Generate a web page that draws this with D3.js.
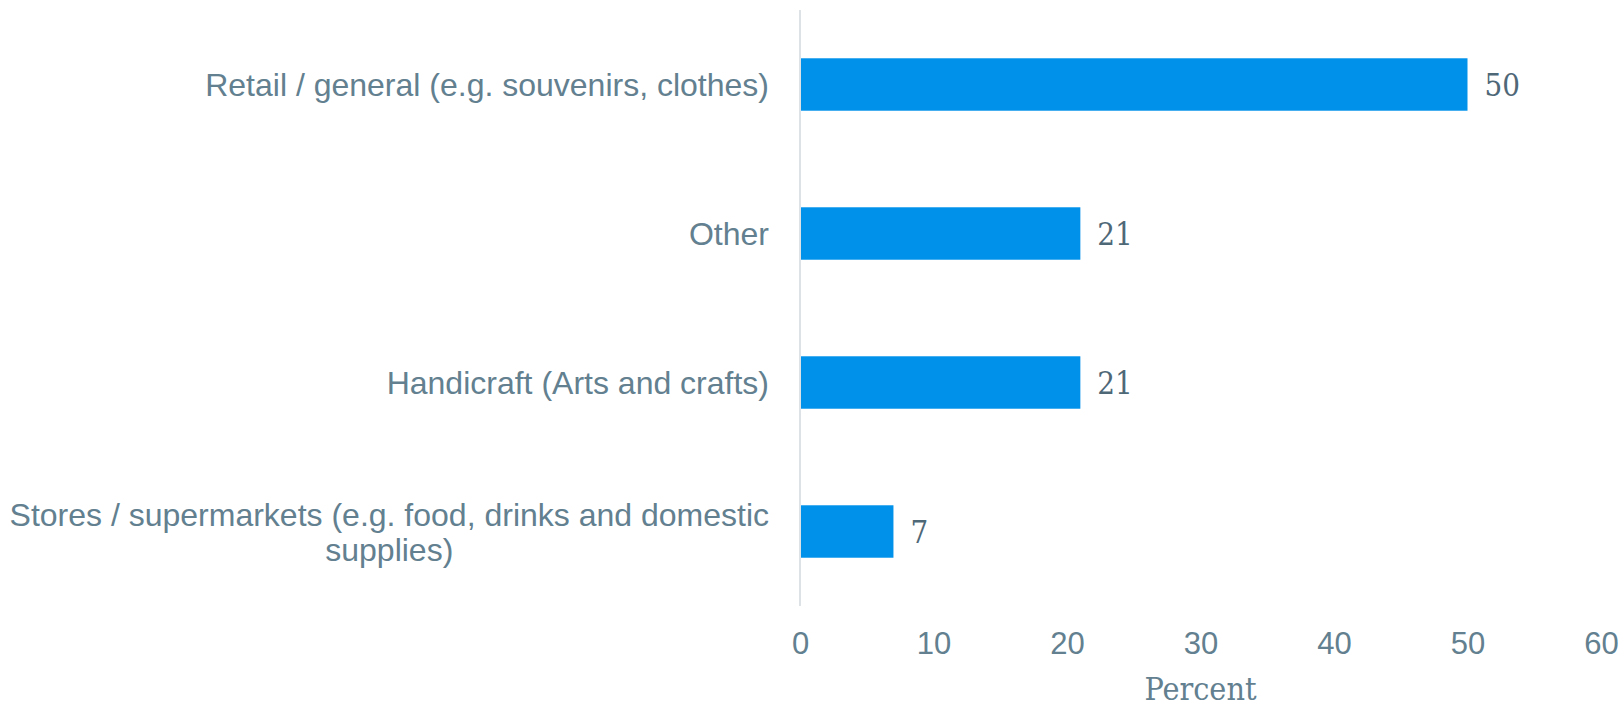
<!DOCTYPE html>
<html>
<head>
<meta charset="utf-8">
<script src="https://cdn.jsdelivr.net/npm/d3@7/dist/d3.min.js"></script>
<style>
  html, body { margin: 0; padding: 0; background: #ffffff; }
  svg { display: block; }
</style>
</head>
<body>
<svg id="chart" width="1624" height="707"></svg>
<script>
// Shop categories (top to bottom) and their share in percent
const categories = [
  ["Retail / general (e.g. souvenirs, clothes)"],
  ["Other"],
  ["Handicraft (Arts and crafts)"],
  ["Stores / supermarkets (e.g. food, drinks and domestic", "supplies)"]
];
const values = [50, 21, 21, 7];
const xTicks = [0, 10, 20, 30, 40, 50, 60];
const xTitle = "Percent";

const svg = d3.select("#chart");

const plotLeft = 800, plotRight = 1601, plotTop = 10, plotBottom = 606;

const x = d3.scaleLinear().domain([0, 60]).range([plotLeft, plotRight]);
const y = d3.scaleBand()
  .domain(d3.range(categories.length))
  .range([plotTop, plotBottom])
  .paddingInner(0.648)
  .paddingOuter(0.324);

const labelColor = "#62808f";
const valueColor = "#4f6878";
const sansFont = "'Liberation Sans', Arial, sans-serif";
const slabFont = "'DejaVu Serif', serif";

// Bars
svg.append("g")
  .selectAll("rect")
  .data(values)
  .join("rect")
  .attr("x", x(0))
  .attr("y", (d, i) => y(i))
  .attr("width", d => x(d) - x(0))
  .attr("height", y.bandwidth())
  .attr("fill", "#0091ea");

// Vertical baseline at zero
svg.append("line")
  .attr("x1", x(0)).attr("x2", x(0))
  .attr("y1", plotTop).attr("y2", plotBottom)
  .attr("stroke", "#dde2e7")
  .attr("stroke-width", 2);

// Value labels at bar ends
svg.append("g")
  .selectAll("text")
  .data(values)
  .join("text")
  .attr("x", d => x(d) + 17)
  .attr("y", (d, i) => y(i) + y.bandwidth() / 2)
  .attr("dy", "0.36em")
  .attr("font-family", slabFont)
  .attr("font-stretch", "condensed")
  .attr("font-size", 31)
  .attr("fill", valueColor)
  .text(d => d);

// Category labels, right-aligned to the axis; wrapped lines centred on each other
const labelRight = x(0) - 31;
const lineGap = 35;
const catG = svg.append("g");
categories.forEach((lines, i) => {
  const cy = y(i) + y.bandwidth() / 2;
  const t = catG.append("text")
    .attr("font-family", sansFont)
    .attr("font-size", 32)
    .attr("fill", labelColor)
    .attr("text-anchor", "middle");
  const spans = lines.map((line, k) =>
    t.append("tspan")
      .attr("y", cy + (k - (lines.length - 1) / 2) * lineGap)
      .attr("dy", "0.36em")
      .text(line)
  );
  const widest = d3.max(spans, s => s.node().getComputedTextLength());
  spans.forEach(s => s.attr("x", labelRight - widest / 2));
});

// Bottom axis tick labels (no axis line or tick marks)
const xAxis = d3.axisBottom(x).tickValues(xTicks).tickSize(0).tickPadding(0);
const axisG = svg.append("g")
  .attr("transform", `translate(0, 632)`)
  .call(xAxis);
axisG.select(".domain").remove();
axisG.selectAll("text")
  .attr("font-family", sansFont)
  .attr("font-size", 31)
  .attr("fill", labelColor)
  .attr("dy", "0.71em");

// Axis title
svg.append("text")
  .attr("x", (x(0) + x(60)) / 2)
  .attr("y", 700)
  .attr("text-anchor", "middle")
  .attr("font-family", slabFont)
  .attr("font-stretch", "condensed")
  .attr("font-size", 32)
  .attr("fill", labelColor)
  .text(xTitle);
</script>
</body>
</html>
